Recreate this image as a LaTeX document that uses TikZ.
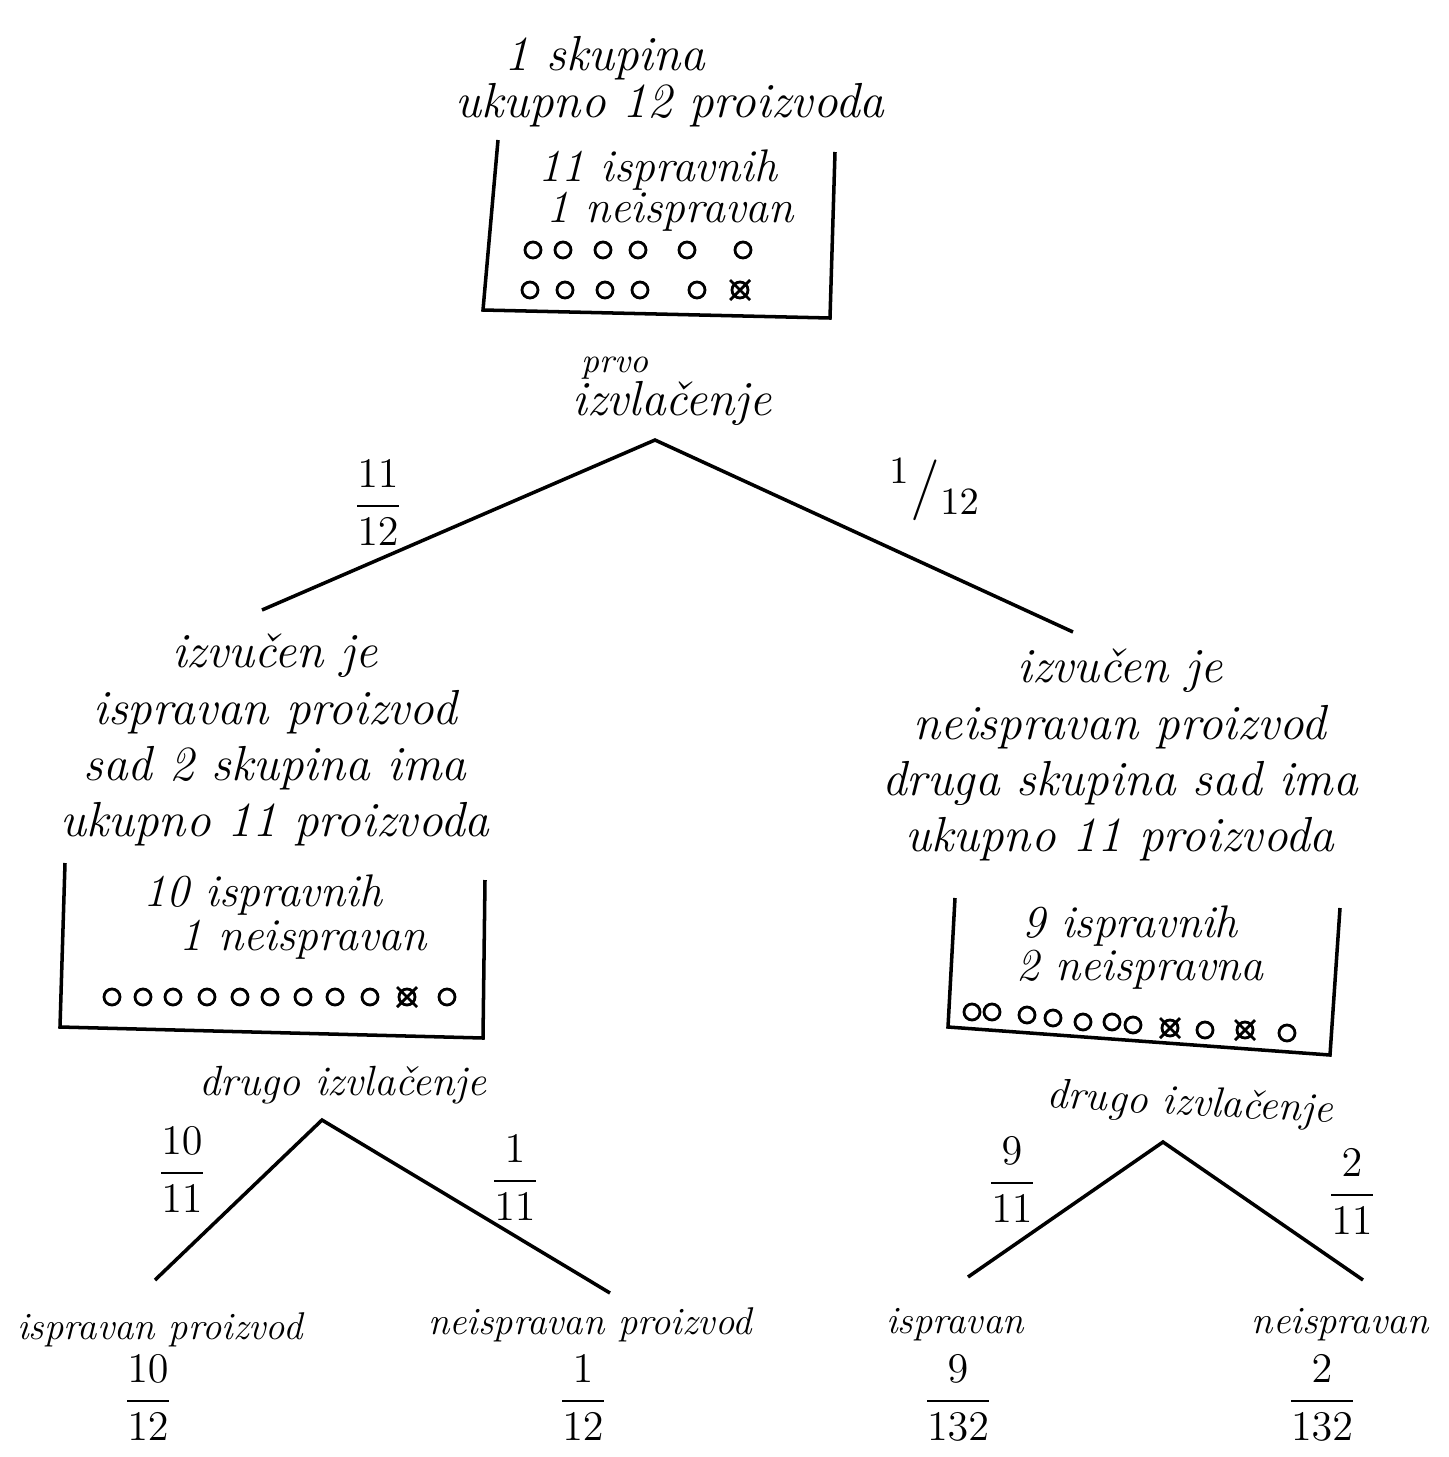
\documentclass[tikz,border=0pt]{standalone}
\usepackage{amsmath}
\begin{document}
\begin{tikzpicture}[x=0.01cm,y=-0.01cm,
  txt/.style={font=\fontsize{14}{16}\selectfont\itshape, align=center, inner sep=0pt},
  boxtxt/.style={font=\fontsize{13}{15}\selectfont\itshape, inner sep=0pt},
  drawtxt/.style={font=\fontsize{12}{14}\selectfont\itshape, inner sep=0pt},
  small/.style={font=\fontsize{10}{12}\selectfont\itshape, inner sep=0pt},
  leaf/.style={font=\fontsize{11}{13}\selectfont\itshape, inner sep=0pt},
  prob/.style={font=\fontsize{12}{14}\selectfont, inner sep=0pt},
  result/.style={font=\fontsize{13}{15}\selectfont, inner sep=0pt},
  slashprob/.style={font=\fontsize{16}{18}\selectfont, inner sep=0pt},
  bead/.style={line width=0.8pt},
  branch/.style={line width=1pt},
  frame/.style={line width=1pt}]

  \useasboundingbox (0,0) rectangle (1449,1457);

  % first group
  \node[txt] (title1) at (605,58) {1 skupina};
  \node[txt] (title2) at (670,105) {ukupno 12 proizvoda};
  \draw[frame] (498,140) -- (483,310) -- (830,318) -- (835,152);
  \node[boxtxt] (ok1) at (658,170) {11 ispravnih};
  \node[boxtxt] (bad1) at (670,212) {1 neispravan};
  \foreach \cx in {533,563,603,638,687,743}
    \draw[bead] (\cx,250) circle[radius=0.08cm];
  \foreach \cx in {530,565,605,640,697}
    \draw[bead] (\cx,290) circle[radius=0.08cm];
  \draw[bead] (740,290) circle[radius=0.08cm] ++(-10,-10) -- ++(20,20) ++(0,-20) -- ++(-20,20);

  % first draw
  \node[small] (first) at (615,368) {prvo};
  \node[txt] (draw1) at (672,403) {izvla\v{c}enje};
  \coordinate (root) at (655,440);
  \coordinate (okend) at (262,610);
  \coordinate (badend) at (1073,632);
  \draw[branch] (okend) -- (root) -- (badend);
  \node[prob] (p11) at (378,503) {$\dfrac{11}{12}$};
  \node[slashprob] (p12) at (935,490) {$^{1}/_{12}$};

  % left: good product drawn
  \node[txt] (midL) at (275,740) {izvu\v{c}en je\\ ispravan proizvod\\ sad 2 skupina ima\\ ukupno 11 proizvoda};
  \draw[frame] (65,863) -- (60,1027) -- (483,1038) -- (485,880);
  \node[boxtxt] (ok2) at (263,895) {10 ispravnih};
  \node[boxtxt] (bad2) at (303,940) {1 neispravan};
  \foreach \cx in {112,143,173,207,240,270,303,335,370,447}
    \draw[bead] (\cx,997) circle[radius=0.08cm];
  \draw[bead] (407,997) circle[radius=0.08cm] ++(-10,-10) -- ++(20,20) ++(0,-20) -- ++(-20,20);

  \node[drawtxt] (draw2L) at (343,1085) {drugo izvla\v{c}enje};
  \coordinate (rootL) at (322,1120);
  \coordinate (okL) at (155,1280);
  \coordinate (badL) at (610,1293);
  \draw[branch] (okL) -- (rootL) -- (badL);
  \node[prob] (p1011) at (182,1170) {$\dfrac{10}{11}$};
  \node[prob] (p111) at (515,1178) {$\dfrac{1}{11}$};

  \node[leaf] (leafOKL) at (160,1330) {ispravan proizvod};
  \node[result] (res1) at (148,1398) {$\dfrac{10}{12}$};
  \node[leaf] (leafBadL) at (590,1325) {neispravan proizvod};
  \node[result] (res2) at (583,1398) {$\dfrac{1}{12}$};

  % right: faulty product drawn
  \node[txt] (midR) at (1120,755) {izvu\v{c}en je\\ neispravan proizvod\\ druga skupina sad ima\\ ukupno 11 proizvoda};
  \draw[frame] (955,898) -- (948,1027) -- (1330,1055) -- (1340,908);
  \node[boxtxt] (ok3) at (1130,926) {9 ispravnih};
  \node[boxtxt] (bad3) at (1140,970) {2 neispravna};
  \foreach \cx/\cy in {972/1012,992/1012,1027/1015,1053/1018,1083/1022,1112/1022,1133/1025,1205/1030,1287/1033}
    \draw[bead] (\cx,\cy) circle[radius=0.08cm];
  \foreach \cx/\cy in {1170/1028,1245/1030}
    \draw[bead] (\cx,\cy) circle[radius=0.08cm] ++(-10,-10) -- ++(20,20) ++(0,-20) -- ++(-20,20);

  \node[drawtxt, rotate=-3] (draw2R) at (1190,1105) {drugo izvla\v{c}enje};
  \coordinate (rootR) at (1163,1142);
  \coordinate (okR) at (968,1277);
  \coordinate (badR) at (1363,1280);
  \draw[branch] (okR) -- (rootR) -- (badR);
  \node[prob] (p911) at (1012,1180) {$\dfrac{9}{11}$};
  \node[prob] (p211) at (1352,1192) {$\dfrac{2}{11}$};

  \node[leaf] (leafOKR) at (955,1325) {ispravan};
  \node[result] (res3) at (958,1398) {$\dfrac{9}{132}$};
  \node[leaf] (leafBadR) at (1340,1325) {neispravan};
  \node[result] (res4) at (1322,1398) {$\dfrac{2}{132}$};
\end{tikzpicture}
\end{document}
